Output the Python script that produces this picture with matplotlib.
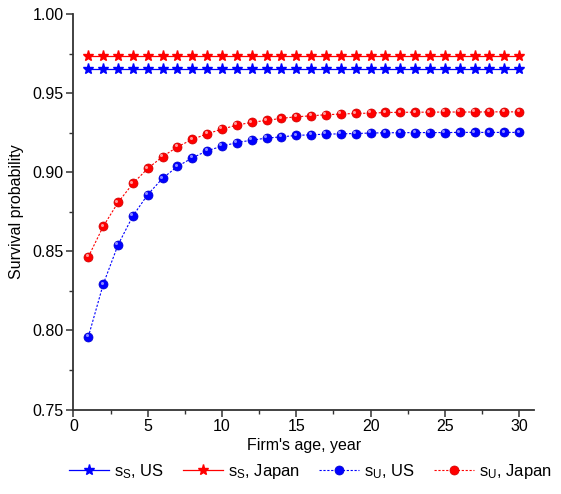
import numpy as np
import matplotlib.pyplot as plt
import matplotlib.transforms as mtransforms
from matplotlib.ticker import MultipleLocator

plt.rcParams['font.family'] = ['Liberation Sans', 'DejaVu Sans']

# Survival probabilities by firm's age
age = np.arange(1, 31)
ss_us = [0.9652] * 30
ss_japan = [0.9737] * 30
su_us = [0.7960, 0.8292, 0.8542, 0.8725, 0.8860, 0.8963, 0.9038, 0.9092, 0.9137, 0.9166,
         0.9189, 0.9204, 0.9217, 0.9225, 0.9234, 0.9238, 0.9242, 0.9244, 0.9246, 0.9249,
         0.9251, 0.9251, 0.9252, 0.9252, 0.9252, 0.9253, 0.9253, 0.9253, 0.9253, 0.9253]
su_japan = [0.8466, 0.8658, 0.8810, 0.8930, 0.9025, 0.9100, 0.9162, 0.9209, 0.9244, 0.9274,
            0.9299, 0.9317, 0.9329, 0.9342, 0.9352, 0.9358, 0.9365, 0.9369, 0.9373, 0.9375,
            0.9379, 0.9380, 0.9381, 0.9381, 0.9382, 0.9382, 0.9382, 0.9383, 0.9383, 0.9383]

fig = plt.figure(figsize=(5.61, 4.94), dpi=100)
ax = fig.add_axes([0.131, 0.171, 0.821, 0.800])

l1, = ax.plot(age, ss_us, color='#0000ff', lw=0.9, marker='*', ms=8, mec='#0000ff',
              mfc='#0000ff', label='$\\mathregular{s_S}$, US', zorder=3)
l2, = ax.plot(age, ss_japan, color='#ff0000', lw=0.9, marker='*', ms=8, mec='#ff0000',
              mfc='#ff0000', label='$\\mathregular{s_S}$, Japan', zorder=3)
l3, = ax.plot(age, su_us, color='#0000ff', lw=0.8, ls=(0, (2, 1.5)), marker='o', ms=6.5,
              mec='#0000cc', mfc='#0000ff', mew=0.5, label='$\\mathregular{s_U}$, US', zorder=3)
l4, = ax.plot(age, su_japan, color='#ff0000', lw=0.8, ls=(0, (2, 1.5)), marker='o', ms=6.5,
              mec='#cc0000', mfc='#ff0000', mew=0.5, label='$\\mathregular{s_U}$, Japan', zorder=3)

# small highlight on the balls
shift = mtransforms.ScaledTranslation(-1.2 / 72, 1.2 / 72, fig.dpi_scale_trans)
for ys, c in [(su_us, '#9999ff'), (su_japan, '#ffaaaa')]:
    ax.plot(age, ys, ls='none', marker='o', ms=2.2, mfc=c, mec='none', alpha=0.9,
            transform=ax.transData + shift, zorder=4)

ax.set_xlim(0, 31)
ax.set_ylim(0.75, 1.00)
ax.xaxis.set_major_locator(MultipleLocator(5))
ax.xaxis.set_minor_locator(MultipleLocator(2.5))
ax.yaxis.set_major_locator(MultipleLocator(0.05))
ax.yaxis.set_minor_locator(MultipleLocator(0.025))
ax.yaxis.set_major_formatter(plt.FormatStrFormatter('%.2f'))

for s in ['top', 'right']:
    ax.spines[s].set_visible(False)
for s in ['left', 'bottom']:
    ax.spines[s].set_linewidth(1.3)
    ax.spines[s].set_color('#333333')
ax.tick_params(which='major', direction='out', length=5, width=1.1, color='#333333',
               labelsize=11.5, pad=2)
ax.tick_params(which='minor', direction='out', length=3, width=1.0, color='#333333')

ax.set_xlabel("Firm's age, year", fontsize=11.5, labelpad=3)
ax.set_ylabel('Survival probability', fontsize=11.5, labelpad=6)

fig.legend(handles=[l1, l2, l3, l4], loc='center', bbox_to_anchor=(0.553, 0.045), ncol=4,
           frameon=False, fontsize=12, handlelength=2.4, handletextpad=0.3,
           columnspacing=1.15, borderaxespad=0)

plt.savefig('out.png', dpi=100)
